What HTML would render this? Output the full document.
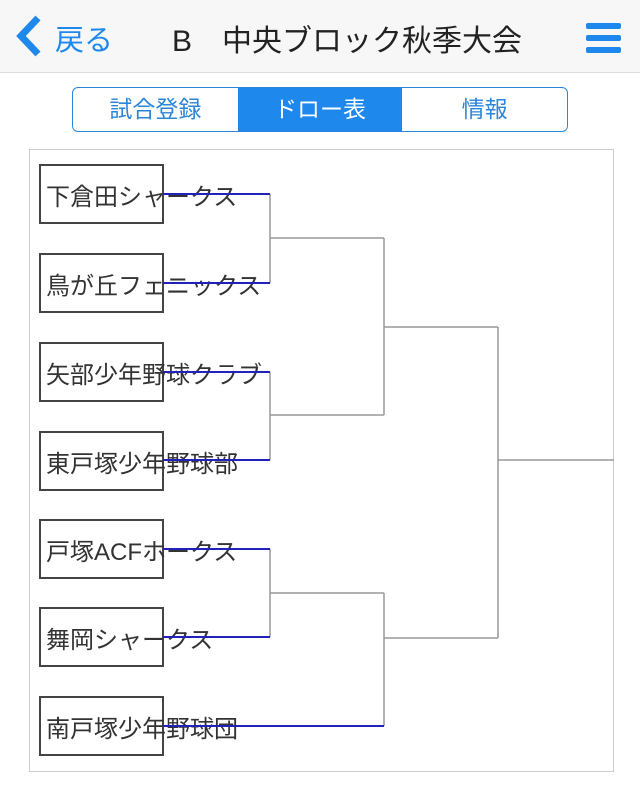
<!DOCTYPE html>
<html><head><meta charset="utf-8"><style>
body{margin:0;width:640px;height:788px;background:#fff;font-family:"Liberation Sans","Noto Sans CJK JP",sans-serif;position:relative;overflow:hidden}
.hdr{position:absolute;left:0;top:0;width:640px;height:72px;background:#f7f7f7;border-bottom:1px solid #ddd}
.t{position:absolute;white-space:nowrap}
.seg{position:absolute;left:72px;top:87px;width:494px;height:43px;border:1.5px solid #2b86d9;border-radius:6px;overflow:hidden;display:flex}
.seg div{flex:1;text-align:center;line-height:43px;font-size:23px;color:#2b86d9}
.seg .a{background:#1e88ec;color:#fff}
.box{position:absolute;left:39px;width:125px;height:60px;border:2px solid #444;box-sizing:border-box}
.nm{position:absolute;left:46px;font-size:24px;color:#333;white-space:nowrap}
</style></head><body>
<div class="hdr"></div>
<svg style="position:absolute;left:14px;top:15px" width="30" height="42"><polyline points="24,3 7,21 24,39" fill="none" stroke="#1e88ec" stroke-width="7"/></svg>
<div class="t" style="left:55px;top:17px;font-size:29px;color:#1e88ec">戻る</div>
<div class="t" style="left:172px;top:16px;font-size:30px;color:#222">B<span style="display:inline-block;width:30px"></span>中央ブロック秋季大会</div>
<div style="position:absolute;left:586px;top:23px;width:35px;height:6px;background:#1e88ec;border-radius:2px"></div>
<div style="position:absolute;left:586px;top:35px;width:35px;height:6px;background:#1e88ec;border-radius:2px"></div>
<div style="position:absolute;left:586px;top:47px;width:35px;height:6px;background:#1e88ec;border-radius:2px"></div>
<div class="seg"><div>試合登録</div><div class="a">ドロー表</div><div>情報</div></div>
<div style="position:absolute;left:29px;top:149px;width:585px;height:623px;border:1.5px solid #ccc;box-sizing:border-box"></div>
<div class="box" style="top:164px"></div><div class="box" style="top:253px"></div><div class="box" style="top:342px"></div><div class="box" style="top:431px"></div><div class="box" style="top:519px"></div><div class="box" style="top:607px"></div><div class="box" style="top:696px"></div>
<div class="nm" style="top:177px">下倉田シャークス</div>
<div class="nm" style="top:266px">鳥が丘フェニックス</div>
<div class="nm" style="top:355px">矢部少年野球クラブ</div>
<div class="nm" style="top:444px">東戸塚少年野球部</div>
<div class="nm" style="top:532px">戸塚ACFホークス</div>
<div class="nm" style="top:620px">舞岡シャークス</div>
<div class="nm" style="top:709px">南戸塚少年野球団</div>
<svg style="position:absolute;left:0;top:0" width="640" height="788">
<g stroke="#999" stroke-width="1.5" fill="none">
<path d="M270 194V283M270 238H384M270 372V460M270 415H384M270 549V637M270 593H384M384 238V415M384 327H498M384 593V726M384 638H498M498 327V638M498 460H614"/>
</g>
<g stroke="#2222bb" stroke-width="2">
<path d="M163 194H270M163 283H270M163 372H270M163 460H270M163 549H270M163 637H270M163 726H384"/>
</g>
</svg>
</body></html>
